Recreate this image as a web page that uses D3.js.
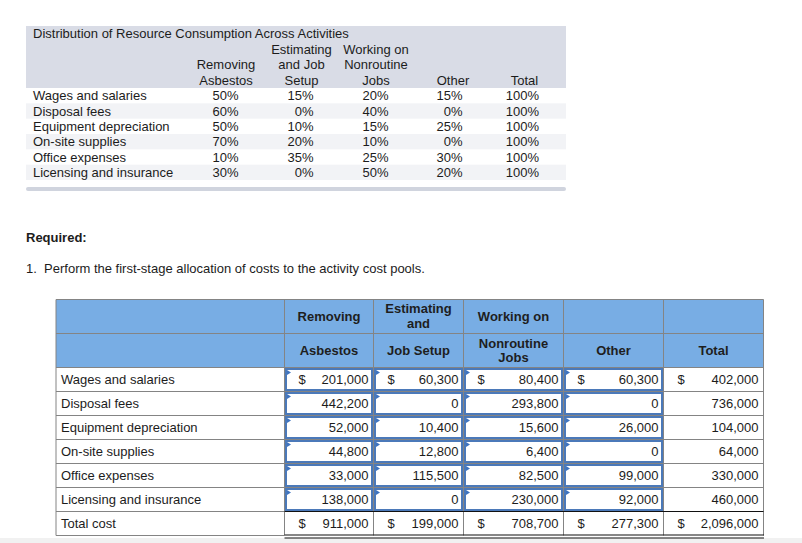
<!DOCTYPE html>
<html>
<head>
<meta charset="utf-8">
<script src="https://cdn.jsdelivr.net/npm/d3@7"></script>
<style>
  html, body { margin: 0; padding: 0; background: #fff; }
  svg { display: block; font-family: "Liberation Sans", Arial, Helvetica, sans-serif; }
</style>
</head>
<body>
<svg id="chart" width="802" height="543"></svg>
<script>
// ---------- DATA ----------
const costItems = ["Wages and salaries", "Disposal fees", "Equipment depreciation", "On-site supplies", "Office expenses", "Licensing and insurance"];
const activities = ["Removing Asbestos", "Estimating and Job Setup", "Working on Nonroutine Jobs", "Other"];
const pctRemoving   = [50, 60, 50, 70, 10, 30];
const pctEstimating = [15, 0, 10, 20, 35, 0];
const pctWorking    = [20, 40, 15, 10, 25, 50];
const pctOther      = [15, 0, 25, 0, 30, 20];
const pctTotal      = [100, 100, 100, 100, 100, 100];

const costRemoving   = [201000, 442200, 52000, 44800, 33000, 138000];
const costEstimating = [60300, 0, 10400, 12800, 115500, 0];
const costWorking    = [80400, 293800, 15600, 6400, 82500, 230000];
const costOther      = [60300, 0, 26000, 0, 99000, 92000];
const costTotal      = [402000, 736000, 104000, 64000, 330000, 460000];
const totalCostRow   = [911000, 199000, 708700, 277300, 2096000];

const topTitle = "Distribution of Resource Consumption Across Activities";
const topHeaders = [["Removing", "Asbestos"], ["Estimating", "and Job", "Setup"], ["Working on", "Nonroutine", "Jobs"], ["Other"], ["Total"]];
const requiredLabel = "Required:";
const requiredText = "1.  Perform the first-stage allocation of costs to the activity cost pools.";
const totalLabel = "Total cost";

// ---------- DRAW ----------
const svg = d3.select("#chart");
const fmt = d3.format(",");
const textColor = "#1c1c1c";

// ===== Top table =====
const topCols = ["Removing", "Estimating", "Working", "Other", "Total"];
const topPct = [pctRemoving, pctEstimating, pctWorking, pctOther, pctTotal];
const topRowY = d3.scaleBand().domain(costItems).range([88, 180]);
const topColCenter = d3.scaleOrdinal().domain(topCols).range([226, 301.5, 376, 453, 524.5]);
const topColRight = d3.scaleOrdinal().domain(topCols).range([238.5, 313.5, 388.5, 462.5, 539]);
const topFont = 13;

const topG = svg.append("g");
topG.append("rect").attr("x", 26).attr("y", 26).attr("width", 540).attr("height", 62).attr("fill", "#d9dce6");
topG.selectAll("rect.band").data(costItems.filter((d, i) => i % 2 === 1)).join("rect")
  .attr("class", "band")
  .attr("x", 26).attr("width", 540)
  .attr("y", d => topRowY(d)).attr("height", topRowY.bandwidth())
  .attr("fill", "#f2f3f6");
topG.append("rect").attr("x", 26).attr("y", 187).attr("width", 540).attr("height", 4).attr("rx", 2).attr("fill", "#d0d4de");

topG.append("text").attr("x", 33).attr("y", 33).attr("dy", "0.35em")
  .attr("font-size", topFont).attr("fill", textColor).text(topTitle);

const headerLineY = [49, 64.5, 80];
topHeaders.forEach((lines, ci) => {
  const offset = 3 - lines.length;
  topG.selectAll(null).data(lines).join("text")
    .attr("x", topColCenter(topCols[ci]))
    .attr("y", (d, j) => headerLineY[j + offset])
    .attr("dy", "0.35em").attr("text-anchor", "middle")
    .attr("font-size", topFont).attr("fill", textColor).text(d => d);
});

topG.selectAll("text.rowlabel").data(costItems).join("text")
  .attr("class", "rowlabel")
  .attr("x", 33).attr("y", d => topRowY(d) + topRowY.bandwidth() / 2)
  .attr("dy", "0.35em").attr("font-size", topFont).attr("fill", textColor).text(d => d);

topCols.forEach((c, ci) => {
  topG.selectAll(null).data(topPct[ci]).join("text")
    .attr("x", topColRight(c))
    .attr("y", (d, i) => topRowY(costItems[i]) + topRowY.bandwidth() / 2)
    .attr("dy", "0.35em").attr("text-anchor", "end")
    .attr("font-size", topFont).attr("fill", textColor).text(d => d + "%");
});

// ===== Required text =====
svg.append("text").attr("x", 26).attr("y", 237).attr("dy", "0.35em")
  .attr("font-size", 13).attr("font-weight", "bold").attr("fill", textColor).text(requiredLabel);
svg.append("text").attr("x", 26).attr("y", 268).attr("dy", "0.35em")
  .attr("font-size", 13).attr("fill", textColor).style("white-space", "pre").text(requiredText);

// ===== Bottom table =====
const bCols = ["label", "Removing", "Estimating", "Working", "Other", "Total"];
const bColLeft = d3.scaleOrdinal().domain(bCols).range([56, 284.5, 373.5, 463.5, 563.5, 663.5]);
const bColRightEdge = 763.5;
const colRight = c => { const i = bCols.indexOf(c); return i < bCols.length - 1 ? bColLeft(bCols[i + 1]) : bColRightEdge; };
const bRows = costItems.concat([totalLabel]);
const bRowY = d3.scaleBand().domain(bRows).range([367.5, 535.5]);
const headTop = 299.5, headMid = 333.5, headBot = 367.5;
const bottomY = 535.5;

// bottom gray page band
svg.insert("rect", ":first-child").attr("x", 0).attr("y", 538).attr("width", 802).attr("height", 5).attr("fill", "#f1f1f1");

const bt = svg.append("g");
bt.append("rect").attr("x", 56).attr("y", headTop).attr("width", bColRightEdge - 56).attr("height", headBot - headTop)
  .attr("fill", "#78ade4");

const grid = "#848484";
const hLines = [headTop, headMid, headBot].concat(bRows.slice(1).map(r => bRowY(r)));
bt.selectAll("line.h").data(hLines).join("line").attr("class", "h")
  .attr("x1", 56).attr("x2", bColRightEdge).attr("y1", d => d).attr("y2", d => d)
  .attr("stroke", grid).attr("stroke-width", 1);
bt.append("line").attr("x1", 56).attr("x2", colRight("label")).attr("y1", bottomY).attr("y2", bottomY).attr("stroke", grid);
const vLines = bCols.map(c => bColLeft(c)).concat([bColRightEdge]);
bt.selectAll("line.v").data(vLines).join("line").attr("class", "v")
  .attr("x1", d => d).attr("x2", d => d).attr("y1", headTop).attr("y2", bottomY)
  .attr("stroke", grid).attr("stroke-width", 1);

bt.append("line").attr("x1", bColLeft("Removing")).attr("x2", bColRightEdge)
  .attr("y1", bRowY(totalLabel)).attr("y2", bRowY(totalLabel)).attr("stroke", "#111").attr("stroke-width", 1.2);
[bottomY - 0.5, bottomY + 2.5].forEach(y => {
  bt.append("line").attr("x1", bColLeft("Removing")).attr("x2", bColRightEdge + 0.5)
    .attr("y1", y).attr("y2", y).attr("stroke", "#111").attr("stroke-width", 1.2);
});

const headerCells = [
  { c: "Removing", y: 316.5, lines: ["Removing"] },
  { c: "Removing", y: 350.5, lines: ["Asbestos"] },
  { c: "Estimating", y: 316, lines: ["Estimating", "and"] },
  { c: "Estimating", y: 350.5, lines: ["Job Setup"] },
  { c: "Working", y: 316.5, lines: ["Working on"] },
  { c: "Working", y: 350.5, lines: ["Nonroutine", "Jobs"] },
  { c: "Other", y: 350.5, lines: ["Other"] },
  { c: "Total", y: 350.5, lines: ["Total"] }
];
headerCells.forEach(h => {
  const cx = (bColLeft(h.c) + colRight(h.c)) / 2;
  const n = h.lines.length;
  bt.selectAll(null).data(h.lines).join("text")
    .attr("x", cx).attr("y", (d, j) => h.y + (j - (n - 1) / 2) * 14.5)
    .attr("dy", "0.35em").attr("text-anchor", "middle")
    .attr("font-size", 13).attr("font-weight", "bold").attr("fill", "#1e1e1e").text(d => d);
});

bt.selectAll("text.blabel").data(bRows).join("text").attr("class", "blabel")
  .attr("x", 61).attr("y", d => bRowY(d) + bRowY.bandwidth() / 2)
  .attr("dy", "0.35em").attr("font-size", 13).attr("fill", textColor).text(d => d);

const inputCols = ["Removing", "Estimating", "Working", "Other"];
inputCols.forEach(c => {
  const x0 = bColLeft(c), x1 = colRight(c);
  bt.selectAll(null).data(costItems).join("rect")
    .attr("x", x0 + 1.5).attr("y", d => bRowY(d) + 1.5)
    .attr("width", x1 - x0 - 3).attr("height", bRowY.bandwidth() - 3)
    .attr("fill", "#fff").attr("stroke", "#4b79b9").attr("stroke-width", 2);
  bt.selectAll(null).data(costItems).join("path")
    .attr("d", d => { const y = bRowY(d); return `M${x0 + 2.5},${y + 2.5}L${x0 + 6.5},${y + 5}L${x0 + 2.5},${y + 7.5}Z`; })
    .attr("fill", "#3f74c0");
});

const allCols = ["Removing", "Estimating", "Working", "Other", "Total"];
const allVals = [costRemoving, costEstimating, costWorking, costOther, costTotal];
allCols.forEach((c, ci) => {
  const vals = allVals[ci].concat([totalCostRow[ci]]);
  const rx = colRight(c) - 5;
  bt.selectAll(null).data(vals).join("text")
    .attr("x", rx).attr("y", (d, i) => bRowY(bRows[i]) + bRowY.bandwidth() / 2)
    .attr("dy", "0.35em").attr("text-anchor", "end")
    .attr("font-size", 13).attr("fill", textColor).text(d => fmt(d));
  bt.selectAll(null).data([bRows[0], totalLabel]).join("text")
    .attr("x", bColLeft(c) + 14).attr("y", d => bRowY(d) + bRowY.bandwidth() / 2)
    .attr("dy", "0.35em").attr("font-size", 13).attr("fill", textColor).text("$");
});
</script>
</body>
</html>
